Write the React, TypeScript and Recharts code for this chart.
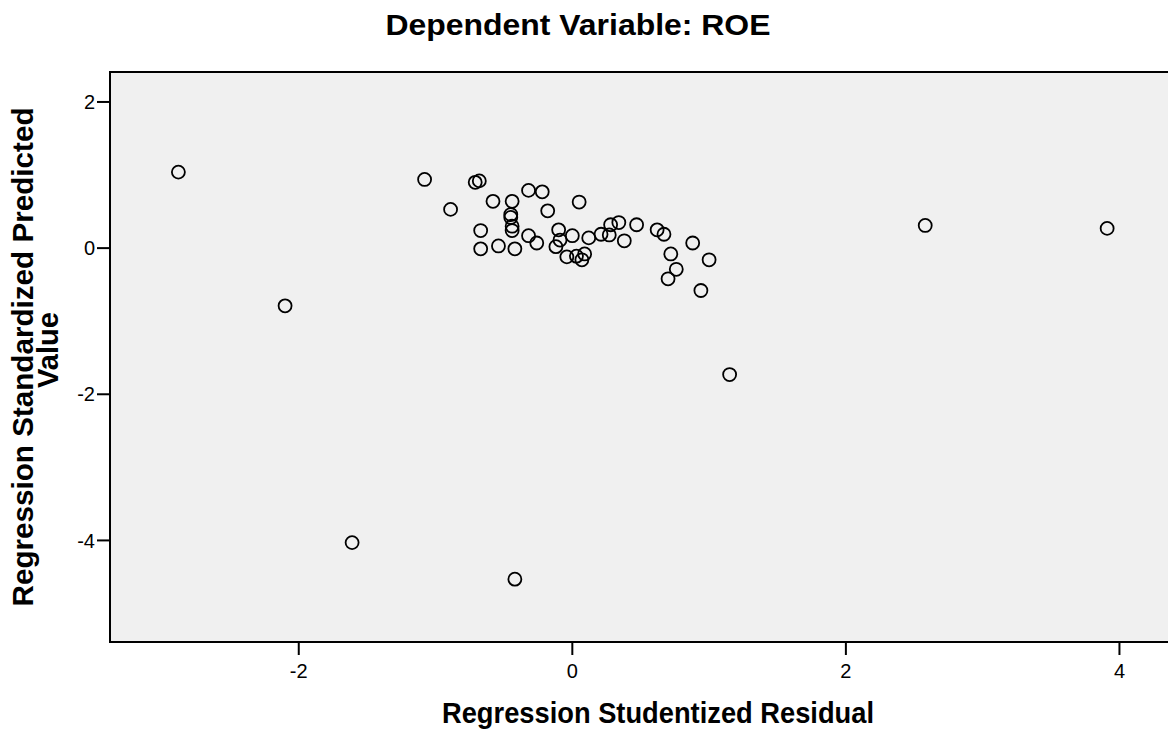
import { ReferenceArea, Scatter, ScatterChart, XAxis, YAxis } from 'recharts'

// studentized residual vs standardized predicted value
const residual = [
  -2.88, -2.1, -1.61, -0.42, 1.15, 2.58, 3.91, -1.08, -0.89, -0.71, -0.68, -0.58, -0.44,
  -0.32, -0.22, 0.05, -0.18, -0.45, -0.45, -0.44, -0.44, -0.67, -0.1, -0.32, -0.26, -0.67,
  -0.54, -0.42, -0.09, 0.0, 0.12, -0.12, -0.04, 0.03, 0.09, 0.07, 0.21, 0.28, 0.34, 0.27,
  0.47, 0.38, 0.62, 0.67, 0.88, 0.72, 0.76, 0.7, 1.0, 0.94,
]
const predicted = [
  1.04, -0.79, -4.03, -4.53, -1.73, 0.31, 0.27, 0.94, 0.53, 0.9, 0.92, 0.64, 0.64,
  0.79, 0.77, 0.63, 0.51, 0.46, 0.42, 0.3, 0.24, 0.24, 0.25, 0.17, 0.07, -0.01,
  0.03, -0.01, 0.11, 0.17, 0.14, 0.02, -0.12, -0.11, -0.08, -0.16, 0.19, 0.32, 0.35, 0.18,
  0.32, 0.1, 0.25, 0.19, 0.07, -0.08, -0.29, -0.42, -0.16, -0.58,
]
const xTicks = [-2, 0, 2, 4]
const yTicks = [-4, -2, 0, 2]
const xDomain: [number, number] = [-3.38, 4.45]
const yDomain: [number, number] = [-5.39, 2.41]

const points = residual.map((x, i) => ({ x, y: predicted[i] }))

const font = '"Liberation Sans", Arial, sans-serif'

function Ring(props: any) {
  return <circle cx={props.cx} cy={props.cy} r={6.5} fill="none" stroke="#000" strokeWidth={1.8} />
}

export default function App() {
  return (
    <div style={{ position: 'absolute', left: 0, top: 0, width: 1168, height: 733, overflow: 'hidden', background: '#fff' }}>
      <ScatterChart width={1220} height={733} margin={{ top: 72, right: 39, bottom: 50, left: 0 }}>
        <XAxis
          type="number"
          dataKey="x"
          domain={xDomain}
          ticks={xTicks}
          allowDataOverflow
          axisLine={false}
          tickSize={13}
          tickMargin={9}
          tickLine={{ stroke: '#000', strokeWidth: 2 }}
          tick={{ fill: '#000', fontSize: 20, fontFamily: font }}
          height={41}
        />
        <YAxis
          type="number"
          dataKey="y"
          domain={yDomain}
          ticks={yTicks}
          allowDataOverflow
          axisLine={false}
          tickSize={13}
          tickLine={{ stroke: '#000', strokeWidth: 2 }}
          tick={{ fill: '#000', fontSize: 20, fontFamily: font }}
          width={110}
        />
        <ReferenceArea
          x1={xDomain[0]}
          x2={xDomain[1]}
          y1={yDomain[0]}
          y2={yDomain[1]}
          fill="#f0f0f0"
          fillOpacity={1}
          stroke="#000"
          strokeWidth={2}
          ifOverflow="visible"
        />
        <Scatter data={points} shape={<Ring />} isAnimationActive={false} />
      </ScatterChart>
      <svg width={1168} height={733} style={{ position: 'absolute', left: 0, top: 0, pointerEvents: 'none' }}>
        <text x={578} y={35} textAnchor="middle" fontFamily={font} fontWeight="bold" fontSize={30} textLength={385} lengthAdjust="spacingAndGlyphs">
          Dependent Variable: ROE
        </text>
        <text x={658} y={723} textAnchor="middle" fontFamily={font} fontWeight="bold" fontSize={29} textLength={432} lengthAdjust="spacingAndGlyphs">
          Regression Studentized Residual
        </text>
        <text x={33} y={357} transform="rotate(-90 33 357)" textAnchor="middle" fontFamily={font} fontWeight="bold" fontSize={29} textLength={499} lengthAdjust="spacingAndGlyphs">
          Regression Standardized Predicted
        </text>
        <text x={58} y={350} transform="rotate(-90 58 350)" textAnchor="middle" fontFamily={font} fontWeight="bold" fontSize={29}>
          Value
        </text>
      </svg>
    </div>
  )
}
